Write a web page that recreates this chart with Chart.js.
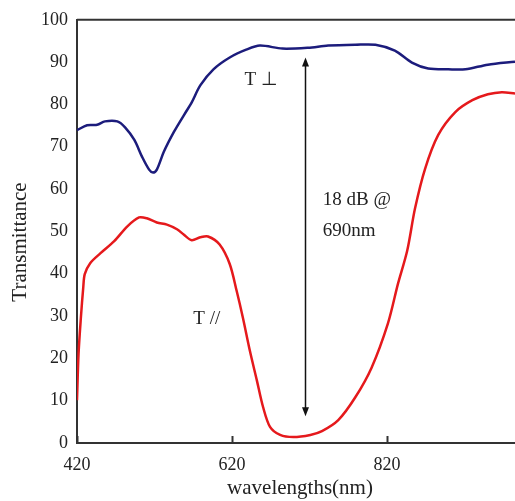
<!DOCTYPE html>
<html>
<head>
<meta charset="utf-8">
<script src="https://cdn.jsdelivr.net/npm/chart.js@4/dist/chart.umd.min.js"></script>
<style>
  html, body { margin: 0; padding: 0; background: #fff; }
  #wrap { width: 515px; height: 501px; position: relative; }
</style>
</head>
<body>
<div id="wrap"><canvas id="chart"></canvas></div>
<script>
  // transmission spectra, wavelength in nm, transmittance in %
  const perpNm = [420, 433, 446, 456, 472, 482, 494, 504, 513, 518, 523, 532, 545, 558, 568, 579, 596, 617, 639, 656, 685, 718, 744, 779, 805, 830, 852, 873, 899, 921, 950, 985];
  const perpT = [73.9, 75.1, 75.2, 76.0, 76.0, 74.6, 71.6, 67.6, 64.6, 63.9, 64.6, 68.8, 73.5, 77.5, 80.5, 84.5, 88.3, 91.1, 93.0, 93.9, 93.2, 93.4, 93.9, 94.1, 94.1, 92.7, 89.9, 88.5, 88.3, 88.3, 89.4, 90.1];

  const paraNm = [420, 422, 425, 428, 430, 437, 450, 468, 485, 500, 510, 523, 536, 549, 558, 568, 579, 589, 604, 617, 626, 634, 643, 652, 660, 669, 682, 699, 721, 736, 757, 779, 800, 821, 834, 846, 856, 869, 886, 908, 930, 950, 968, 985];
  const paraT = [10.1, 21.1, 29.6, 36.6, 39.9, 42.5, 44.8, 47.7, 51.2, 53.3, 53.1, 52.1, 51.6, 50.5, 49.2, 47.9, 48.6, 48.8, 46.9, 42.3, 35.9, 29.6, 21.8, 14.8, 8.5, 3.8, 1.9, 1.4, 1.9, 2.8, 5.4, 10.8, 17.8, 28.2, 37.6, 45.5, 55.4, 64.8, 72.8, 78.2, 81.0, 82.4, 82.9, 82.6];

  const xTicks = [420, 620, 820];
  const xRange = [420, 985];
  const yRange = [0, 100];

  // extinction marker: vertical double arrow at 714 nm
  const arrowNm = 714;
  const arrowFrom = 6.3;
  const arrowTo = 91.1;

  const notes = [
    { text: 'T \u22a5', nm: 636, t: 85.7 },
    { text: '18 dB @', nm: 737, t: 57.5 },
    { text: '690nm', nm: 737, t: 50.0 },
    { text: 'T //', nm: 570, t: 29.3 },
  ];

  const serif = '"Liberation Serif", "Times New Roman", serif';
  const axisColor = '#333';
  const textColor = '#222';

  function pairs(xs, ys) {
    return xs.map((x, i) => ({ x, y: ys[i] }));
  }

  const overlay = {
    id: 'overlay',
    afterDatasetsDraw(chart) {
      const { ctx, chartArea: a, scales } = chart;
      const sx = scales.x;
      const sy = scales.y;
      ctx.save();

      // top frame line
      ctx.strokeStyle = axisColor;
      ctx.lineWidth = 2;
      ctx.beginPath();
      ctx.moveTo(a.left, a.top);
      ctx.lineTo(a.right, a.top);
      ctx.stroke();

      // inward tick marks on the wavelength axis
      xTicks.forEach((v) => {
        const px = Math.round(sx.getPixelForValue(v)) + 0.5;
        ctx.beginPath();
        ctx.moveTo(px, a.bottom);
        ctx.lineTo(px, a.bottom - 7);
        ctx.stroke();
      });

      // double-headed arrow
      const ax = Math.round(sx.getPixelForValue(arrowNm)) + 0.5;
      const y1 = sy.getPixelForValue(arrowTo);
      const y2 = sy.getPixelForValue(arrowFrom);
      ctx.strokeStyle = '#111';
      ctx.fillStyle = '#111';
      ctx.lineWidth = 1.5;
      ctx.beginPath();
      ctx.moveTo(ax, y1 + 6);
      ctx.lineTo(ax, y2 - 6);
      ctx.stroke();
      ctx.beginPath();
      ctx.moveTo(ax, y1);
      ctx.lineTo(ax - 3.5, y1 + 9);
      ctx.lineTo(ax + 3.5, y1 + 9);
      ctx.closePath();
      ctx.fill();
      ctx.beginPath();
      ctx.moveTo(ax, y2);
      ctx.lineTo(ax - 3.5, y2 - 9);
      ctx.lineTo(ax + 3.5, y2 - 9);
      ctx.closePath();
      ctx.fill();

      // curve labels and the extinction note
      ctx.font = '19px ' + serif;
      ctx.fillStyle = textColor;
      ctx.textAlign = 'left';
      ctx.textBaseline = 'middle';
      notes.forEach((n) => {
        ctx.fillText(n.text, sx.getPixelForValue(n.nm), sy.getPixelForValue(n.t));
      });

      // axis titles
      ctx.font = '21px ' + serif;
      ctx.textAlign = 'center';
      ctx.fillText('wavelengths(nm)', 300, 488);
      ctx.translate(20, 242);
      ctx.rotate(-Math.PI / 2);
      ctx.fillText('Transmittance', 0, 0);
      ctx.restore();
    },
  };

  new Chart(document.getElementById('chart'), {
    type: 'line',
    data: {
      datasets: [
        {
          label: 'T\u22a5',
          data: pairs(perpNm, perpT),
          borderColor: '#1c1c7c',
          borderWidth: 2.5,
          pointRadius: 0,
          tension: 0.3,
        },
        {
          label: 'T//',
          data: pairs(paraNm, paraT),
          borderColor: '#e5191c',
          borderWidth: 2.5,
          pointRadius: 0,
          tension: 0.3,
        },
      ],
    },
    options: {
      responsive: true,
      maintainAspectRatio: false,
      animation: false,
      layout: { padding: { top: 17, right: 0, left: 0, bottom: 0 } },
      plugins: { legend: { display: false }, tooltip: { enabled: false } },
      scales: {
        x: {
          type: 'linear',
          min: xRange[0],
          max: xRange[1],
          afterBuildTicks: (s) => {
            s.ticks = xTicks.map((v) => ({ value: v }));
          },
          afterFit: (s) => {
            s.height = 58;
          },
          grid: { display: false, drawTicks: false },
          border: { display: true, color: axisColor, width: 2 },
          ticks: { color: textColor, font: { family: serif, size: 18 }, padding: 11, maxRotation: 0 },
        },
        y: {
          min: yRange[0],
          max: yRange[1],
          afterFit: (s) => {
            s.width = 77;
          },
          grid: { display: false, drawTicks: false },
          border: { display: true, color: axisColor, width: 2 },
          ticks: { stepSize: 10, color: textColor, font: { family: serif, size: 18 }, padding: 9 },
        },
      },
    },
    plugins: [overlay],
  });
</script>
</body>
</html>
